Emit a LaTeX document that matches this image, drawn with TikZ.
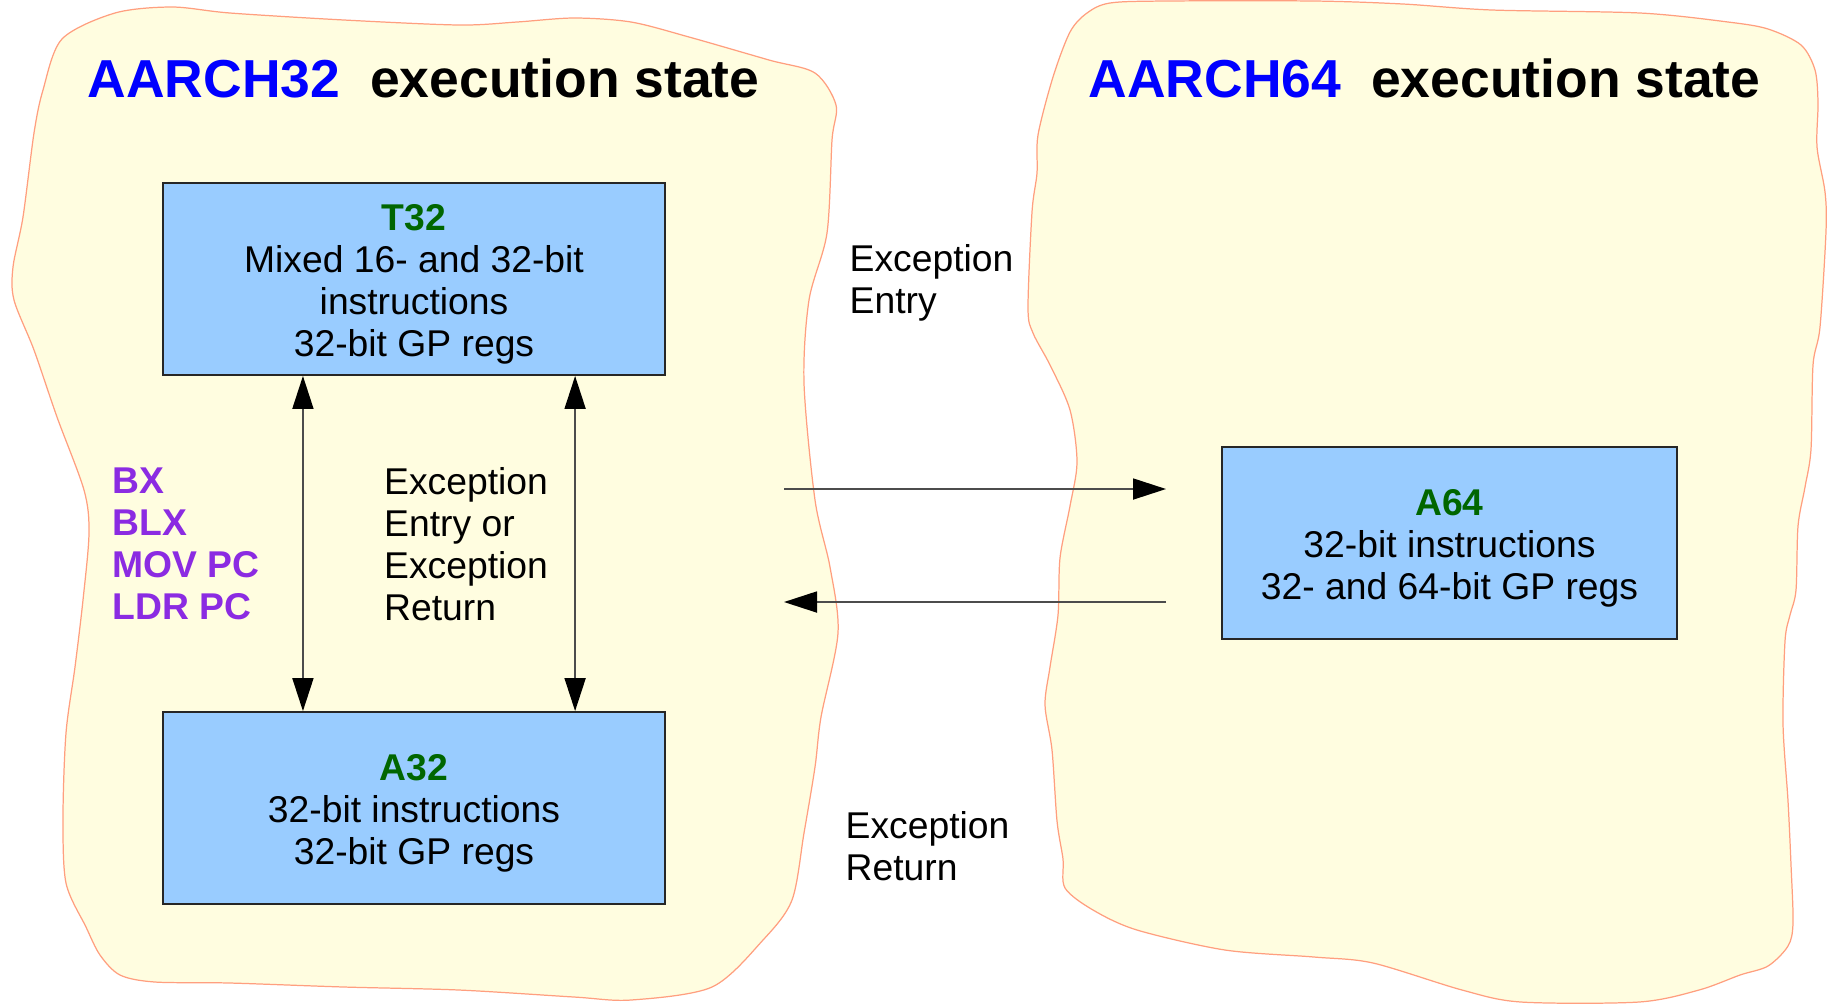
\documentclass[tikz,border=0pt]{standalone}
\usepackage{fontspec}
\setmainfont{Liberation Sans}
\usepackage{tikz}
\usetikzlibrary{arrows.meta,positioning}
\usepackage{xcolor}
\definecolor{blobfill}{HTML}{FFFDE0}
\definecolor{blobline}{HTML}{FF9F7F}
\definecolor{boxblue}{HTML}{99CCFF}
\definecolor{isagreen}{HTML}{006600}
\definecolor{archblue}{HTML}{0000FF}
\definecolor{instrpurple}{HTML}{8B2BE2}
\newcommand{\boxfont}{\fontsize{10.6}{11.95}\selectfont}
\newcommand{\statefont}{\fontsize{15.2}{18}\selectfont\bfseries}
\newcommand{\isa}[1]{\rule{0pt}{3.6mm}\textbf{\color{isagreen}#1}}

\begin{document}
\begin{tikzpicture}[
    x=0.01cm, y=-0.01cm,
    >={Triangle[length=3.3mm, width=2.1mm, color=black]},
    state/.style={draw=blobline, fill=blobfill, line width=0.35pt},
    isabox/.style={rectangle, draw=black!85, fill=boxblue, line width=0.5pt, minimum height=1.92cm, align=center, inner sep=0pt, font=\boxfont},
    title/.style={anchor=base west, inner sep=0pt, font=\statefont},
    lbl/.style={anchor=west, align=left, inner sep=0pt, font=\boxfont},
    arr/.style={->, draw=black!70, line width=0.5pt},
    dblarr/.style={<->, draw=black!70, line width=0.5pt}
]
    \useasboundingbox (0,0) rectangle (1828,1005);

    \draw[state] plot[smooth cycle] coordinates {
        (62,39) (115,13) (172,7) (230,13) (344,20) (459,25) (517,22) (574,18)
        (631,22) (689,37) (769,60) (815,73) (836,105) (832,140) (827,233) (809,300)
        (804,383) (815,500) (830,567) (838,633) (821,717) (815,767) (804,833) (792,900)
        (763,940) (712,987) (631,1000) (574,997) (459,990) (344,987) (230,983) (155,982)
        (120,975) (100,955) (86,927) (66,883) (63,817) (66,733) (75,667) (83,600)
        (89,533) (84,490) (57,417) (34,350) (14,300) (13,267) (23,217) (34,133) (43,90)};
    \draw[state] plot[smooth cycle] coordinates {
        (1110,3) (1166,1) (1314,1) (1403,4) (1492,10) (1640,13) (1728,22) (1768,29)
        (1801,45) (1815,70) (1818,103) (1817,147) (1825,192) (1826,231) (1820,327) (1813,365)
        (1811,449) (1805,487) (1798,526) (1796,590) (1790,615) (1785,641) (1783,724) (1788,801)
        (1791,865) (1793,923) (1788,946) (1768,966) (1740,975) (1699,990) (1639,1002) (1521,1002)
        (1462,990) (1373,963) (1314,957) (1225,950) (1137,930) (1093,910) (1065,888) (1063,859)
        (1057,821) (1052,750) (1045,705) (1050,667) (1058,615) (1060,558) (1070,506) (1077,462)
        (1070,410) (1050,365) (1033,333) (1028,308) (1032,212) (1037,173) (1038,135) (1053,77)
        (1070,32) (1087,13)};

    \node[title] (a32title) at (87,97) {\textcolor{archblue}{AARCH32}\hspace{3mm}execution state};
    \node[title] (a64title) at (1088,97) {\textcolor{archblue}{AARCH64}\hspace{3mm}execution state};

    \node[isabox, minimum width=5.01cm] (t32) at (414,279) {\isa{T32}\\Mixed 16- and 32-bit\\instructions\\32-bit GP regs};
    \node[isabox, minimum width=5.01cm] (a32) at (414,808) {\isa{A32}\\32-bit instructions\\32-bit GP regs};
    \node[isabox, minimum width=4.55cm] (a64) at (1449.5,543) {\isa{A64}\\32-bit instructions\\32- and 64-bit GP regs};

    \node[lbl, text=instrpurple, font=\boxfont\bfseries] (branch) at (112,544) {BX\\BLX\\MOV PC\\LDR PC};
    \node[lbl] (swlbl) at (383.5,544) {Exception\\Entry or\\Exception\\Return};
    \node[lbl] (entrylbl) at (849,282.5) {Exception\\Entry};
    \node[lbl] (retlbl) at (845,846.5) {Exception\\Return};

    \coordinate (entryS) at (784,489);
    \coordinate (entryE) at (1166,489);
    \coordinate (retS) at (1166,602);
    \coordinate (retE) at (784,602);

    \draw[dblarr] ([xshift=-1.11cm]t32.south) -- ([xshift=-1.11cm]a32.north);
    \draw[dblarr] ([xshift=1.61cm]t32.south) -- ([xshift=1.61cm]a32.north);
    \draw[arr] (entryS) -- (entryE);
    \draw[arr] (retS) -- (retE);
\end{tikzpicture}
\end{document}
